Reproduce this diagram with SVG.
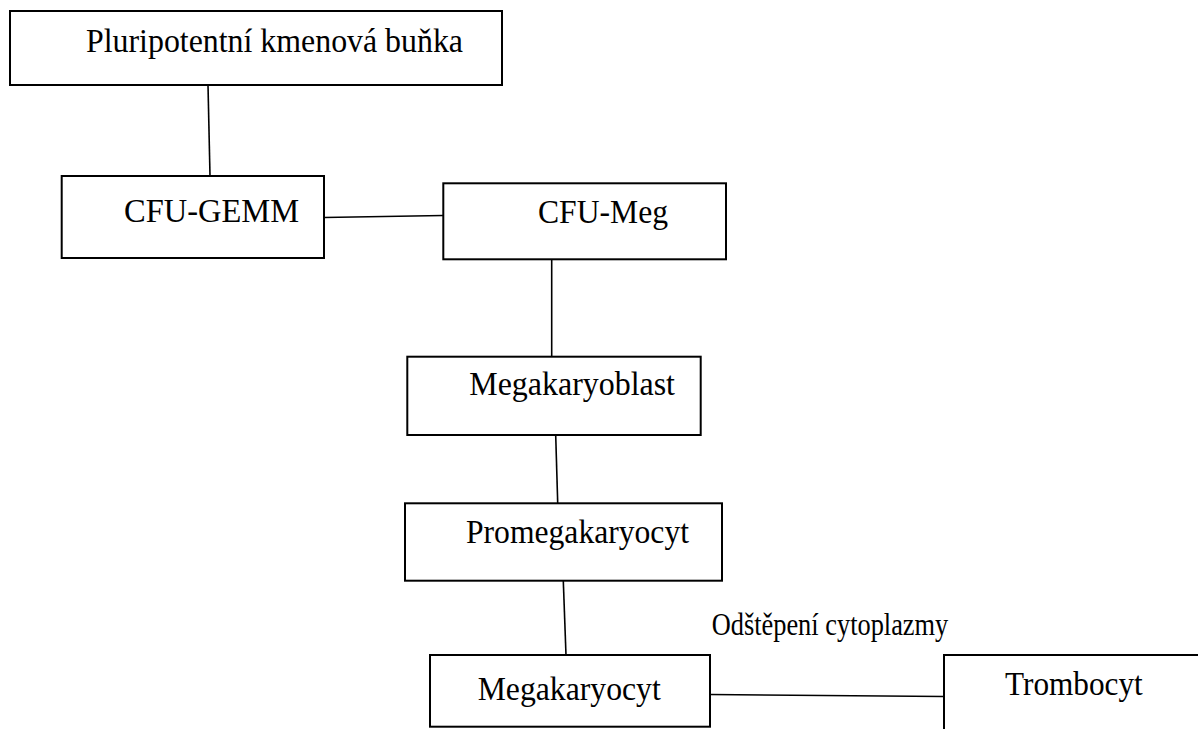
<svg xmlns="http://www.w3.org/2000/svg" width="1198" height="729" viewBox="0 0 1198 729">
<style>
.box{fill:#fff;stroke:#000;stroke-width:2}
.t{font-family:"Liberation Serif","Times New Roman",serif;font-size:33px;fill:#000}
.s{font-family:"Liberation Serif","Times New Roman",serif;font-size:31px;fill:#000}
.c{stroke:#000;stroke-width:1.6;fill:none}
</style>
<rect width="1198" height="729" fill="#fff"/>
<g id="connectors">
<line class="c" x1="208" y1="85" x2="210" y2="176"/>
<line class="c" x1="324" y1="217.5" x2="443" y2="215.5"/>
<line class="c" x1="551.7" y1="259" x2="551.7" y2="357"/>
<line class="c" x1="555.7" y1="435" x2="557.7" y2="503"/>
<line class="c" x1="563.3" y1="581" x2="566" y2="655"/>
<line class="c" x1="710" y1="694.5" x2="944" y2="696.5"/>
</g>
<g id="n1"><rect class="box" x="10" y="11" width="492" height="74"/><text class="t" x="86" y="51.7" textLength="377" lengthAdjust="spacingAndGlyphs">Pluripotentní kmenová buňka</text></g>
<g id="n2"><rect class="box" x="61.7" y="176" width="262.3" height="82"/><text class="t" x="124" y="221.7" textLength="175" lengthAdjust="spacingAndGlyphs">CFU-GEMM</text></g>
<g id="n3"><rect class="box" x="443.3" y="183.3" width="282.7" height="76"/><text class="t" x="538" y="223.3" textLength="130" lengthAdjust="spacingAndGlyphs">CFU-Meg</text></g>
<g id="n4"><rect class="box" x="407.3" y="356.7" width="293.4" height="78.3"/><text class="t" x="469.3" y="395" textLength="205.7" lengthAdjust="spacingAndGlyphs">Megakaryoblast</text></g>
<g id="n5"><rect class="box" x="405" y="503.3" width="317" height="77.4"/><text class="t" x="466" y="543.3" textLength="223" lengthAdjust="spacingAndGlyphs">Promegakaryocyt</text></g>
<g id="n6"><rect class="box" x="430" y="655" width="280" height="71.7"/><text class="t" x="477.7" y="700" textLength="183" lengthAdjust="spacingAndGlyphs">Megakaryocyt</text></g>
<g id="n7"><rect class="box" x="944" y="655" width="320" height="120"/><text class="t" x="1005" y="695" textLength="137.7" lengthAdjust="spacingAndGlyphs">Trombocyt</text></g>
<g id="label"><text class="s" x="711.7" y="635" textLength="236.6" lengthAdjust="spacingAndGlyphs">Odštěpení cytoplazmy</text></g>
</svg>
